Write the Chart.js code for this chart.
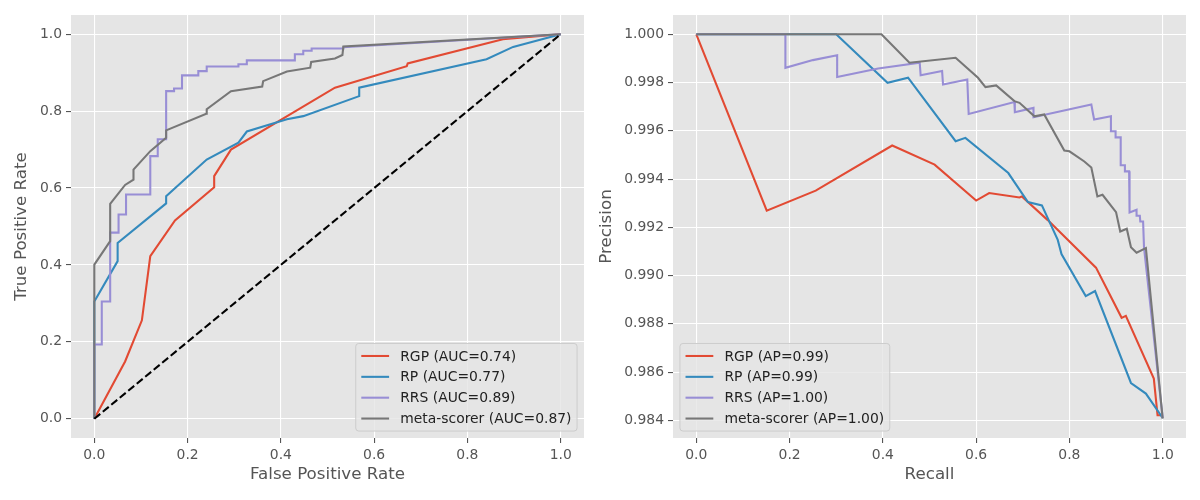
<!DOCTYPE html>
<html>
<head>
<meta charset="utf-8">
<script src="https://cdn.jsdelivr.net/npm/chart.js@4.4.1/dist/chart.umd.min.js"></script>
<style>
  html, body { margin: 0; padding: 0; background: #ffffff; }
  #wrap { position: relative; width: 1200px; height: 500px; }
  #roc { position: absolute; left: 0; top: 0; }
  #pr { position: absolute; left: 590px; top: 0; }
</style>
</head>
<body>
<div id="wrap">
  <canvas id="roc" width="600" height="500"></canvas>
  <canvas id="pr" width="610" height="500"></canvas>
</div>
<script>
// Model names and scores shown in the legends
const models = ['RGP', 'RP', 'RRS', 'meta-scorer'];
const aucValues = [0.74, 0.77, 0.89, 0.87];
const apValues = [0.99, 0.99, 1.00, 1.00];

// ROC curves as [false positive rate, true positive rate]
const rocRGP = [[0, 0], [0.066, 0.149], [0.102, 0.256], [0.12, 0.423], [0.173, 0.516], [0.257, 0.602],
  [0.257, 0.631], [0.293, 0.70], [0.516, 0.861], [0.67, 0.917], [0.672, 0.924], [0.876, 0.987], [1, 1]];
const rocRP = [[0, 0], [0, 0.305], [0.05, 0.41], [0.05, 0.457], [0.154, 0.56], [0.154, 0.579], [0.241, 0.674],
  [0.309, 0.718], [0.327, 0.747], [0.413, 0.779], [0.448, 0.787], [0.568, 0.839], [0.568, 0.861],
  [0.841, 0.935], [0.898, 0.967], [1, 1]];
const rocRRS = [[0, 0], [0, 0.193], [0.016, 0.193], [0.016, 0.305], [0.034, 0.305], [0.034, 0.484],
  [0.052, 0.484], [0.052, 0.531], [0.068, 0.531], [0.068, 0.583], [0.12, 0.583], [0.12, 0.683],
  [0.136, 0.683], [0.136, 0.727], [0.154, 0.727], [0.154, 0.852], [0.171, 0.852], [0.171, 0.859],
  [0.188, 0.859], [0.188, 0.893], [0.223, 0.893], [0.223, 0.904], [0.241, 0.904], [0.241, 0.916],
  [0.309, 0.916], [0.309, 0.922], [0.327, 0.922], [0.327, 0.932], [0.43, 0.932], [0.43, 0.948],
  [0.448, 0.948], [0.448, 0.957], [0.466, 0.957], [0.466, 0.963], [0.534, 0.963], [0.534, 0.966], [1, 1]];
const rocMeta = [[0, 0], [0, 0.401], [0.034, 0.462], [0.034, 0.559], [0.066, 0.608], [0.084, 0.622],
  [0.084, 0.648], [0.12, 0.696], [0.154, 0.731], [0.154, 0.75], [0.24, 0.793], [0.241, 0.805],
  [0.293, 0.852], [0.36, 0.864], [0.362, 0.878], [0.413, 0.903], [0.463, 0.913], [0.465, 0.928],
  [0.516, 0.937], [0.532, 0.946], [0.534, 0.968], [1, 1]];
const rocChance = [[0, 0], [1, 1]];

// Precision-recall curves as [recall, precision]
const prRGP = [[0, 1.0], [0.151, 0.99269], [0.256, 0.99352], [0.42, 0.99539], [0.511, 0.9946], [0.6, 0.99311],
  [0.628, 0.99342], [0.693, 0.99324], [0.698, 0.99328], [0.753, 0.99231], [0.857, 0.99033],
  [0.912, 0.98825], [0.921, 0.98833], [0.981, 0.98573], [0.989, 0.98421], [1.0, 0.98421]];
const prRP = [[0, 1], [0.3, 1], [0.41, 0.99799], [0.454, 0.9982], [0.556, 0.99557], [0.577, 0.99571],
  [0.669, 0.99425], [0.711, 0.99305], [0.741, 0.99291], [0.775, 0.99148], [0.783, 0.99089],
  [0.835, 0.98915], [0.855, 0.98936], [0.932, 0.98555], [0.964, 0.98511], [1.0, 0.9841]];
const prRRS = [[0, 1], [0.191, 1], [0.191, 0.99861], [0.25, 0.99893], [0.302, 0.99913], [0.302, 0.99823],
  [0.39, 0.99858], [0.479, 0.99882], [0.481, 0.9983], [0.527, 0.99848], [0.529, 0.99792], [0.581, 0.99813],
  [0.584, 0.9967], [0.682, 0.99719], [0.683, 0.99677], [0.723, 0.99695], [0.723, 0.99656],
  [0.847, 0.99709], [0.85, 0.99677], [0.853, 0.99647], [0.889, 0.9966], [0.889, 0.99598],
  [0.899, 0.99598], [0.899, 0.99573], [0.91, 0.99573], [0.91, 0.99457], [0.919, 0.99457],
  [0.919, 0.99432], [0.928, 0.99432], [0.929, 0.99262], [0.944, 0.99273], [0.944, 0.99248],
  [0.951, 0.99248], [0.952, 0.99224], [0.958, 0.99224], [0.96, 0.99116], [1.0, 0.9841]];
const prMeta = [[0, 1], [0.397, 1], [0.457, 0.99882], [0.556, 0.99903], [0.604, 0.9982], [0.62, 0.99781],
  [0.643, 0.99788], [0.682, 0.99723], [0.693, 0.99716], [0.725, 0.9966], [0.746, 0.99668],
  [0.789, 0.99518], [0.8, 0.99515], [0.832, 0.99473], [0.847, 0.99448], [0.86, 0.99328],
  [0.871, 0.99335], [0.9, 0.99263], [0.909, 0.99183], [0.923, 0.99194], [0.932, 0.99118],
  [0.944, 0.99095], [0.964, 0.99114], [1.0, 0.98407]];

// Tick labels
const unitTicks = [0.0, 0.2, 0.4, 0.6, 0.8, 1.0];
const precisionTicks = [0.984, 0.986, 0.988, 0.990, 0.992, 0.994, 0.996, 0.998, 1.000];

const FONT = '"DejaVu Sans", Verdana, sans-serif';
const palette = ['#E24A33', '#348ABD', '#988ED5', '#777777'];
const LINE_W = 2.08;

// Grey plot background like matplotlib's ggplot style
const plotBackground = {
  id: 'plotBackground',
  beforeDraw(chart) {
    const a = chart.chartArea;
    chart.ctx.save();
    chart.ctx.fillStyle = '#E5E5E5';
    chart.ctx.fillRect(a.left, a.top, a.right - a.left, a.bottom - a.top);
    chart.ctx.restore();
  }
};

// Legend drawn inside the plot area, in a lower corner
const insideLegend = {
  id: 'insideLegend',
  afterDatasetsDraw(chart, args, opts) {
    const ctx = chart.ctx, area = chart.chartArea;
    const fs = 13.9;
    const items = chart.data.datasets.filter(d => !d.noLegend);
    ctx.save();
    ctx.font = fs + 'px ' + FONT;
    const textW = Math.max(...items.map(d => ctx.measureText(d.label).width));
    const pad = 0.4 * fs, handle = 2 * fs, gap = 0.8 * fs, rowH = fs * 1.0, spacing = 0.5 * fs;
    const w = 2 * pad + handle + gap + textW;
    const h = 2 * pad + items.length * rowH + (items.length - 1) * spacing;
    const x = opts.corner === 'right' ? area.right - 0.5 * fs - w : area.left + 0.5 * fs;
    const y = area.bottom - 0.5 * fs - h;

    ctx.beginPath();
    if (ctx.roundRect) ctx.roundRect(x, y, w, h, 3); else ctx.rect(x, y, w, h);
    ctx.fillStyle = 'rgba(229,229,229,0.8)';
    ctx.fill();
    ctx.strokeStyle = '#cccccc';
    ctx.lineWidth = 1;
    ctx.stroke();

    ctx.textBaseline = 'middle';
    ctx.textAlign = 'left';
    items.forEach((d, i) => {
      const cy = y + pad + i * (rowH + spacing) + rowH / 2;
      ctx.beginPath();
      ctx.moveTo(x + pad, cy);
      ctx.lineTo(x + pad + handle, cy);
      ctx.strokeStyle = d.borderColor;
      ctx.lineWidth = LINE_W;
      ctx.stroke();
      ctx.fillStyle = '#222222';
      ctx.fillText(d.label, x + pad + handle + gap, cy + 1);
    });
    ctx.restore();
  }
};

function toPoints(pairs) {
  return pairs.map(p => ({ x: p[0], y: p[1] }));
}

function curve(label, pairs, color, order) {
  return {
    label: label,
    data: toPoints(pairs),
    borderColor: color,
    backgroundColor: color,
    borderWidth: LINE_W,
    pointRadius: 0,
    tension: 0,
    fill: false,
    order: order
  };
}

function makeScale(min, max, tickValues, digits, title, size, titlePad) {
  return {
    type: 'linear',
    min: min,
    max: max,
    afterBuildTicks: s => { s.ticks = tickValues.map(v => ({ value: v })); },
    afterFit: s => { if (s.isHorizontal()) s.height = size; else s.width = size; },
    grid: { color: '#ffffff', lineWidth: 1.1, tickColor: '#555555', tickLength: 5, tickWidth: 1.1 },
    border: { display: false },
    ticks: {
      color: '#555555', padding: 4, autoSkip: false, maxRotation: 0,
      font: { family: FONT, size: 13.9 },
      callback: v => Number(v).toFixed(digits)
    },
    title: {
      display: true, text: title, color: '#555555',
      font: { family: FONT, size: 16.7 }, padding: titlePad
    }
  };
}

const baseOptions = (padding) => ({
  responsive: false,
  animation: false,
  layout: { padding: padding },
  plugins: { legend: { display: false }, tooltip: { enabled: false } }
});

// ROC chart
const rocSeries = [rocRGP, rocRP, rocRRS, rocMeta];
const rocDatasets = rocSeries.map((s, i) =>
  curve(models[i] + ' (AUC=' + aucValues[i].toFixed(2) + ')', s, palette[i], 10 - i));
rocDatasets.push(Object.assign(curve('chance', rocChance, '#000000', 1), { borderDash: [7.7, 3.3], noLegend: true }));

new Chart(document.getElementById('roc'), {
  type: 'line',
  data: { datasets: rocDatasets },
  options: Object.assign(baseOptions({ top: 15, right: 16, left: 0, bottom: 0 }), {
    scales: {
      x: makeScale(-0.05, 1.05, unitTicks, 1, 'False Positive Rate', 62, { top: 4, bottom: 15 }),
      y: makeScale(-0.05, 1.05, unitTicks, 1, 'True Positive Rate', 71, { top: 12, bottom: 4 })
    },
    plugins: { legend: { display: false }, tooltip: { enabled: false }, insideLegend: { corner: 'right' } }
  }),
  plugins: [plotBackground, insideLegend]
});

// Precision-recall chart
const prSeries = [prRGP, prRP, prRRS, prMeta];
const prDatasets = prSeries.map((s, i) =>
  curve(models[i] + ' (AP=' + apValues[i].toFixed(2) + ')', s, palette[i], 10 - i));

new Chart(document.getElementById('pr'), {
  type: 'line',
  data: { datasets: prDatasets },
  options: Object.assign(baseOptions({ top: 15, right: 14, left: 0, bottom: 0 }), {
    scales: {
      x: makeScale(-0.05, 1.05, unitTicks, 1, 'Recall', 62, { top: 4, bottom: 15 }),
      y: makeScale(0.98327, 1.0008, precisionTicks, 3, 'Precision', 83, { top: 7, bottom: 4 })
    },
    plugins: { legend: { display: false }, tooltip: { enabled: false }, insideLegend: { corner: 'left' } }
  }),
  plugins: [plotBackground, insideLegend]
});
</script>
</body>
</html>
